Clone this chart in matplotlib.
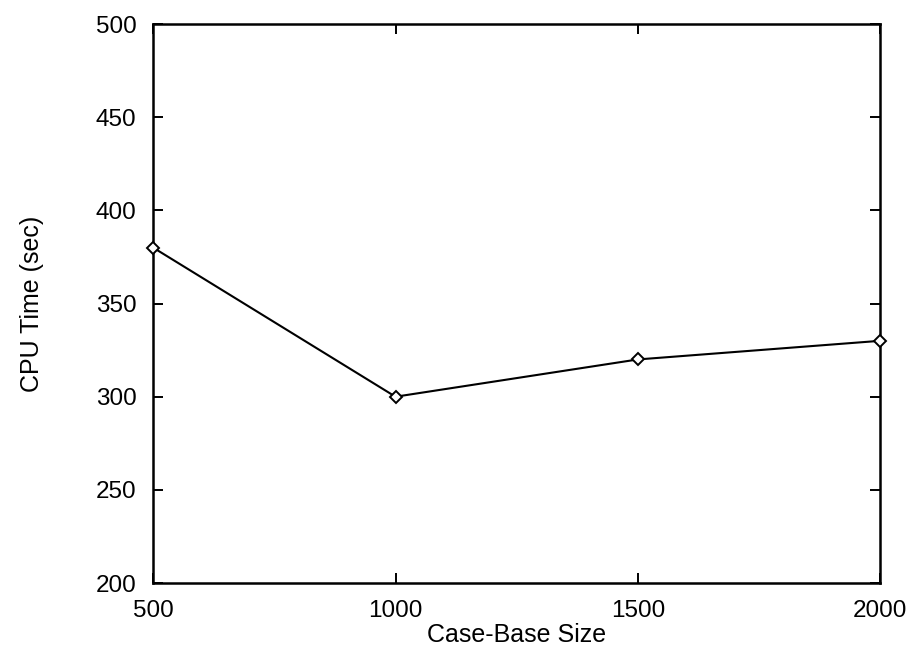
import matplotlib
matplotlib.use('Agg')
import matplotlib.pyplot as plt

# case-base size vs cpu time
sizes = [500, 1000, 1500, 2000]
cpu_time = [380, 300, 320, 330]
xticks = [500, 1000, 1500, 2000]
yticks = [200, 250, 300, 350, 400, 450, 500]

plt.rcParams['font.family'] = ['Liberation Sans', 'DejaVu Sans']

fig = plt.figure(figsize=(9.12, 6.5), dpi=100)
ax = fig.add_axes([0.168, 0.103, 0.797, 0.860])

ax.plot(sizes, cpu_time, color='black', lw=1.5, marker='D', markersize=6.5,
        markerfacecolor='white', markeredgecolor='black', markeredgewidth=1.4,
        clip_on=False, zorder=3)

ax.set_xlim(500, 2000)
ax.set_ylim(200, 500)
ax.set_xticks(xticks)
ax.set_yticks(yticks)
ax.tick_params(direction='in', length=7, width=1.4, labelsize=17.5,
               top=True, right=True, pad=12)
for s in ax.spines.values():
  s.set_linewidth(1.8)

ax.set_xlabel('Case-Base Size', fontsize=18, labelpad=1)
ax.set_ylabel('CPU Time (sec)', fontsize=18, labelpad=37)

fig.savefig('out.png', dpi=100)
